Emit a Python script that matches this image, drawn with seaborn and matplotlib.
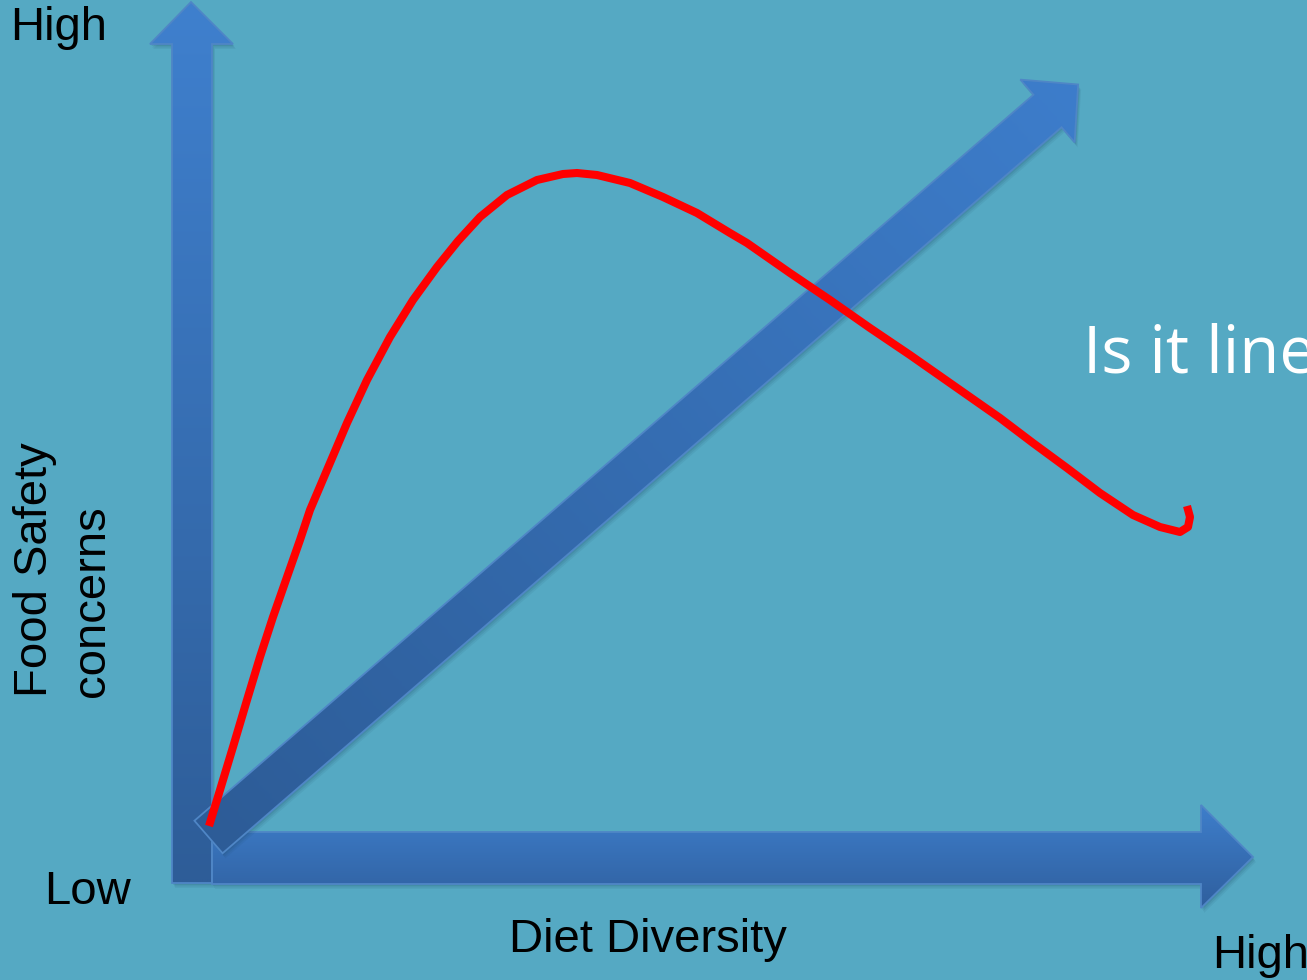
import numpy as np
import matplotlib
matplotlib.use("Agg")
import matplotlib.pyplot as plt
import seaborn as sns
from matplotlib.patches import Polygon
from matplotlib.colors import LinearSegmentedColormap

# ---- data: red concept curve (pixel-space coordinates of the slide) ----
curve_x = [209, 220, 233, 247, 260, 273, 287, 300, 310, 327, 347, 367, 390,
           413, 437, 458, 480, 507, 537, 563, 577, 597, 630, 663, 697, 730,
           747, 790, 830, 870, 910, 950, 1000, 1033, 1067, 1100, 1133, 1160,
           1180, 1188, 1190, 1187]
curve_y = [826, 790, 747, 700, 657, 617, 577, 540, 510, 470, 423, 380, 337,
           300, 267, 241, 217, 195, 180, 174, 173, 175, 183, 197, 213, 233,
           243, 273, 300, 328, 355, 383, 418, 443, 468, 493, 515, 527,
           532, 527, 517, 506]

y_axis_labels = ["Low", "High"]
x_axis_labels = ["Diet Diversity", "High"]
y_title = ["Food Safety", "concerns"]
question = "Is it linear?"

BG = "#55A9C3"
EDGE = "#4F86C6"

sns.set_theme(style="white")
plt.rcParams["font.family"] = ["Liberation Sans", "DejaVu Sans"]

W, H = 1307, 980
fig = plt.figure(figsize=(W / 100, H / 100), dpi=100)
fig.patch.set_facecolor(BG)
ax = fig.add_axes([0, 0, 1, 1])
ax.set_facecolor(BG)


def gradient_poly(verts, c0, c1, p0, p1, z):
    verts = np.asarray(verts, dtype=float)
    # soft shadow
    for off, a in [(5, 0.08), (3.5, 0.10), (2, 0.12)]:
        sh = Polygon(verts + np.array([off * 0.6, off]), closed=True,
                     facecolor="#1d4560", edgecolor="none", alpha=a, zorder=z - 0.5)
        ax.add_patch(sh)
    poly = Polygon(verts, closed=True, facecolor="none", edgecolor=EDGE,
                   lw=1.3, zorder=z + 0.1)
    ax.add_patch(poly)
    x0, x1 = verts[:, 0].min(), verts[:, 0].max()
    y0, y1 = verts[:, 1].min(), verts[:, 1].max()
    gx, gy = np.meshgrid(np.linspace(x0, x1, 300), np.linspace(y0, y1, 300))
    d = np.array(p1, float) - np.array(p0, float)
    t = ((gx - p0[0]) * d[0] + (gy - p0[1]) * d[1]) / (d @ d)
    t = np.clip(t, 0, 1)
    cmap = LinearSegmentedColormap.from_list("g", [c0, c1])
    im = ax.imshow(t, cmap=cmap, vmin=0, vmax=1, extent=(x0, x1, y1, y0),
                   origin="upper", aspect="auto", zorder=z, interpolation="bilinear")
    im.set_clip_path(poly)


# vertical axis arrow
v_arrow = [(172, 883), (212, 883), (212, 44), (233, 44), (191, 2), (150, 44), (172, 44)]
gradient_poly(v_arrow, "#2E5D98", "#3F80CE", (191, 883), (191, 2), 2)

# horizontal axis arrow
h_arrow = [(212, 832), (1201, 832), (1201, 805), (1253, 857), (1201, 908),
           (1201, 884), (212, 884)]
gradient_poly(h_arrow, "#3E7ECB", "#2F5F9E", (700, 805), (700, 908), 2)

# diagonal arrow
S = np.array([208.5, 837.0])
B = np.array([1047.5, 111.0])
u = (B - S) / np.linalg.norm(B - S)
n = np.array([-u[1], u[0]])
hw, hh, hl = 21.5, 41.5, 40.5
tip = B + u * hl
d_arrow = [S + n * hw, B + n * hw, B + n * hh, tip, B - n * hh, B - n * hw, S - n * hw]
gradient_poly(d_arrow, "#2D5C97", "#3D7DCB", S, tip, 3)

# red curve
sns.lineplot(x=curve_x, y=curve_y, sort=False, estimator=None, color="#FF0000",
             linewidth=5.8, ax=ax, zorder=10)
ln = ax.lines[-1]
ln.set_solid_capstyle("butt")
ln.set_solid_joinstyle("round")

fs = 34
ax.text(10, 28, y_axis_labels[1], fontsize=fs, ha="left", va="center", color="black")
ax.text(44, 892, y_axis_labels[0], fontsize=fs, ha="left", va="center", color="black")
ax.text(648, 940, x_axis_labels[0], fontsize=fs, ha="center", va="center", color="black")
ax.text(1212, 956, x_axis_labels[1], fontsize=fs, ha="left", va="center", color="black")

ax.text(47, 697, y_title[0], fontsize=fs, rotation=90, rotation_mode="anchor",
        ha="left", va="baseline", color="black")
ax.text(104, 697, y_title[1], fontsize=fs, rotation=90, rotation_mode="anchor",
        ha="left", va="baseline", color="black")

ax.text(1083, 372, question, fontsize=47, ha="left", va="baseline", color="white",
        family=["Open Sans", "DejaVu Sans"])

ax.set_xlim(0, W)
ax.set_ylim(H, 0)
ax.axis("off")

fig.savefig("out.png", dpi=100, facecolor=BG)
